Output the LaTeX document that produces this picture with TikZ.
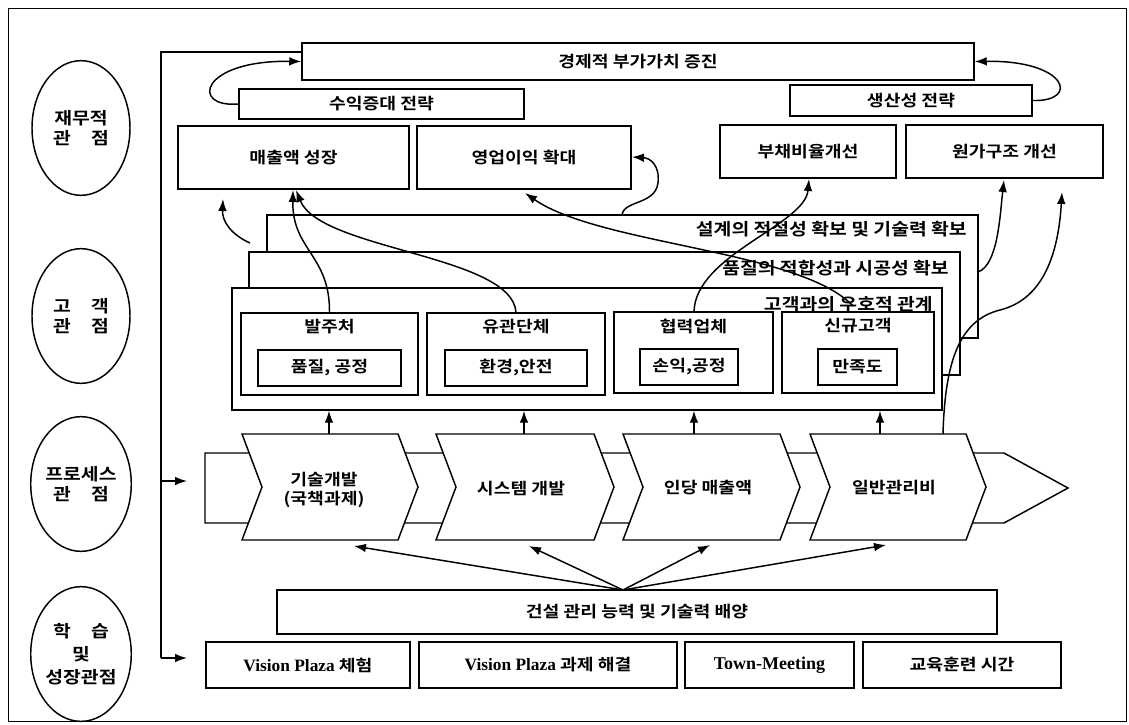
\documentclass[tikz,border=0pt]{standalone}
\usepackage{fontspec}
\newfontfamily\kr{Noto Sans CJK KR}[BoldFont={Noto Sans CJK KR Bold},FakeStretch=1.15]
\newfontfamily\lat{Liberation Serif}
\usetikzlibrary{arrows.meta,shapes.geometric,fit}
\newcommand{\vp}{{\lat\bfseries\fontsize{13}{15}\selectfont Vision Plaza}}
\newcommand{\bx}[4]{\node[box, fit={#2 #3}] (#1) {}; \node[txt] (#1t) at (#1.center) {#4};}
\begin{document}
\begin{tikzpicture}[x=0.75pt,y=-0.75pt,
 lw/.style={line width=1.1pt},
 txt/.style={font=\kr\bfseries\fontsize{11.9}{14}\selectfont, inner sep=0pt, align=center},
 big/.style={font=\kr\bfseries\fontsize{12.6}{15}\selectfont},
 box/.style={draw, lw, fill=white, inner sep=0pt},
 arr/.style={lw, -{Latex[length=9pt,width=6.5pt]}},
 ell/.style={txt, draw, lw, ellipse, minimum width=73.5pt, minimum height=101pt,
   font=\kr\bfseries\fontsize{12.6}{15}\selectfont},
]
\useasboundingbox (0,0) rectangle (1129,725);
\draw[line width=0.6pt] (8,8) rectangle (1126,721);

% perspective ellipses
\node[ell] (e1) at (81,128) {재무적\\관\hspace{1.2em}점};
\node[ell] (e2) at (81,316) {고\hspace{1.2em}객\\관\hspace{1.2em}점};
\node[ell] (e3) at (81,484) {프로세스\\관\hspace{1.2em}점};
\node[ell] (e4) at (81,654) {학\hspace{1.2em}습\\[2pt]및\\[2pt]성장관점};

% financial level
\bx{tb}{(302,43)}{(974,80)}{경제적 부가가치 증진}
\bx{sj}{(239,89)}{(524,119)}{수익증대 전략}
\bx{ss}{(790,85)}{(1032,116)}{생산성 전략}
\bx{b1}{(178,126)}{(409,189)}{매출액 성장}
\bx{b2}{(417,126)}{(631,189)}{영업이익 확대}
\bx{b3}{(720,125)}{(896,178)}{부채비율개선}
\bx{b4}{(906,125)}{(1103,178)}{원가구조 개선}

% left spine
\coordinate (vtop) at (161,52);
\coordinate (vmid) at (161,481);
\coordinate (vbot) at (161,658);
\coordinate (amid) at (187,481);
\coordinate (abot) at (187,658);
\draw[lw] (tb.west |- vtop) -- (vtop) -- (vbot);
\draw[arr] (vmid) -- (amid);
\draw[arr] (vbot) -- (abot);

% customer frames
\node[box, fit={(267,215) (978,338)}] (fA) {};
\node[txt, big, anchor=east] (tA) at (967,229) {설계의 적절성 확보 및 기술력 확보};
\node[box, fit={(249,252) (960,375)}] (fB) {};
\node[txt, big, anchor=east] (tB) at (949,268) {품질의 적합성과 시공성 확보};
\node[box, fit={(232,288) (942,410)}] (fC) {};
\node[txt, big, anchor=east] (tC) at (933,304) {고객과의 우호적 관계};

\node[box, fit={(241,313) (418,395)}] (c1) {};
\node[txt] (c1t) at (329.5,327) {발주처};
\bx{c1i}{(258,350)}{(401,386)}{품질, 공정}
\node[box, fit={(427,313) (605,395)}] (c2) {};
\node[txt] (c2t) at (516,327) {유관단체};
\bx{c2i}{(445,350)}{(587,386)}{환경,안전}
\node[box, fit={(614,312) (773,393)}] (c3) {};
\node[txt] (c3t) at (693.5,326) {협력업체};
\bx{c3i}{(640,349)}{(738,385)}{손익,공정}
\node[box, fit={(782,312) (934,393)}] (c4) {};
\node[txt] (c4t) at (858,326) {신규고객};
\bx{c4i}{(818,349)}{(897,385)}{만족도}

% process band and chevrons
\draw[lw, fill=white] (205,453) -- (1004,453) -- (1068,488) -- (1004,523) -- (205,523) -- cycle;
\foreach \L/\R in {242/398, 436/594, 623/780, 810/966}{
  \draw[lw, fill=white] (\L,434) -- (\R,434) -- (\R+20,487) -- (\R,540) -- (\L,540) -- (\L+20,487) -- cycle;
}
\node[txt] (p1) at (324,490) {기술개발\\(국책과제)};
\node[txt] (p2) at (521,489) {시스템 개발};
\node[txt] (p3) at (708,488) {인당 매출액};
\node[txt] (p4) at (894,488) {일반관리비};

\foreach \x/\n in {329/1, 524/2, 694/3, 880/4}{
  \coordinate (u\n) at (\x,434);
  \draw[arr] (u\n) -- (u\n |- fC.south);
}

% learning level
\bx{gb}{(277,590)}{(997,634)}{건설 관리 능력 및 기술력 배양}
\bx{v1}{(206,642)}{(410,688)}{\vp\ 체험}
\bx{v2}{(419,642)}{(677,688)}{\vp\ 과제 해결}
\bx{v3}{(685,642)}{(854,688)}{{\lat\bfseries\fontsize{13.5}{15}\selectfont Town-Meeting}}
\bx{v4}{(863,642)}{(1061,688)}{교육훈련 시간}

\coordinate (cv) at (623,590);
\coordinate (d1) at (354,546);
\coordinate (d2) at (529,546);
\coordinate (d3) at (710,545);
\coordinate (d4) at (886,545);
\foreach \n in {1,2,3,4}{ \draw[arr] (cv) -- (d\n); }

% loops to top box
\draw[arr] (sj.west) .. controls (190,108) and (200,60) .. (tb.west);
\draw[arr] (ss.east) .. controls (1080,102) and (1068,60) .. (tb.east);

% curved links
\coordinate (k1) at (250,243);
\coordinate (k1t) at (223,199);
\draw[arr] (k1) .. controls (232,235) and (222,222) .. (k1t);
\coordinate (b1a) at (293,190);
\coordinate (b1b) at (296,190);
\draw[arr] (c1.north) .. controls (330,255) and (292,250) .. (b1a);
\draw[arr] (c2.north) .. controls (512,255) and (320,250) .. (b1b);
\coordinate (c4a) at (853,306);
\coordinate (b2a) at (525,193);
\draw[arr] (c4a) .. controls (800,250) and (600,245) .. (b2a);
\coordinate (c3a) at (694,312);
\coordinate (b3a) at (809,179);
\draw[arr] (c3a) .. controls (695,255) and (805,225) .. (b3a);
\coordinate (fAa) at (622,215);
\coordinate (b2r) at (632,157);
\draw[arr] (fAa) .. controls (624,200) and (655,205) .. (658,183) .. controls (660,165) and (650,158) .. (b2r);
\coordinate (fAr) at (978,272);
\coordinate (b4a) at (1004,180);
\draw[arr] (fAr) .. controls (998,265) and (1000,215) .. (b4a);
\coordinate (p4a) at (943,434);
\coordinate (b4b) at (1062,192);
\draw[arr] (p4a) .. controls (945,360) and (960,320) .. (1000,310) .. controls (1040,300) and (1058,260) .. (b4b);
\end{tikzpicture}
\end{document}
